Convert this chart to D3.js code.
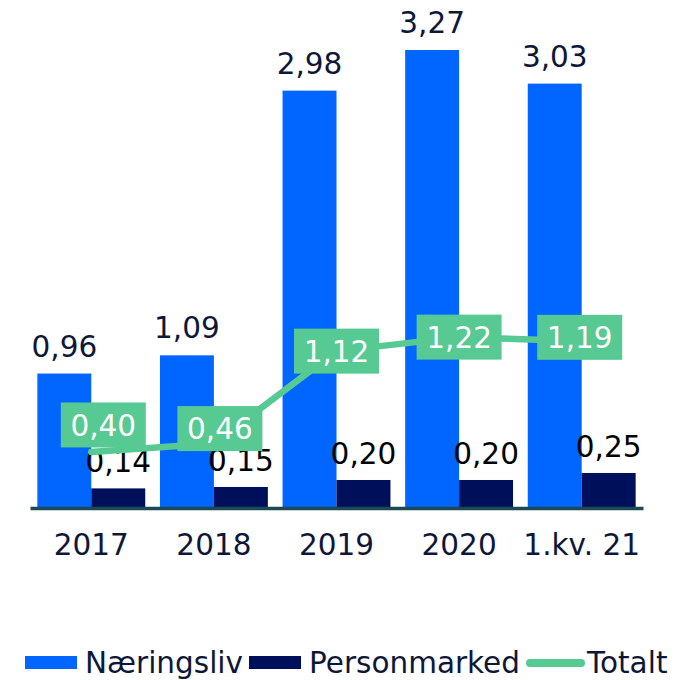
<!DOCTYPE html>
<html>
<head>
<meta charset="utf-8">
<script src="https://cdn.jsdelivr.net/npm/d3@7"></script>
<style>
  body { margin: 0; background: #fff; }
  svg { display: block; font-family: "DejaVu Sans", Verdana, sans-serif; }
</style>
</head>
<body>
<svg id="chart" width="694" height="680"></svg>
<script>
// Periods on the x axis
const categories = ["2017", "2018", "2019", "2020", "1.kv. 21"];
// Bar series
const naeringsliv = [0.96, 1.09, 2.98, 3.27, 3.03];
const personmarked = [0.14, 0.15, 0.20, 0.20, 0.25];
// Line series
const totalt = [0.40, 0.46, 1.12, 1.22, 1.19];
// Legend entries
const legendLabels = ["Næringsliv", "Personmarked", "Totalt"];

const colors = {
  naeringsliv: "#0066ff",
  personmarked: "#000f5a",
  totalt: "#57c993",
  axis: "#1b4a55",
  text: "#0e1738"
};

const fontSize = 29.5;
const fmt = v => d3.format(".2f")(v).replace(".", ",");

const svg = d3.select("#chart");
const baseY = 508;

const x = d3.scaleBand()
  .domain(categories)
  .range([30, 643])
  .paddingInner(0.12)
  .paddingOuter(0.06);

const sub = d3.scaleBand()
  .domain(["naeringsliv", "personmarked"])
  .range([0, x.bandwidth()]);

const y = d3.scaleLinear()
  .domain([0, 3.5])
  .range([baseY, baseY - 3.5 * 140.06]);

// Bars
const groups = svg.append("g").selectAll("g")
  .data(categories)
  .join("g")
  .attr("transform", d => `translate(${x(d)},0)`);

groups.append("rect")
  .attr("x", sub("naeringsliv"))
  .attr("width", sub.bandwidth())
  .attr("y", (d, i) => y(naeringsliv[i]))
  .attr("height", (d, i) => y(0) - y(naeringsliv[i]))
  .attr("fill", colors.naeringsliv);

groups.append("rect")
  .attr("x", sub("personmarked"))
  .attr("width", sub.bandwidth())
  .attr("y", (d, i) => y(personmarked[i]))
  .attr("height", (d, i) => y(0) - y(personmarked[i]))
  .attr("fill", colors.personmarked);

// Bar value labels
groups.append("text")
  .attr("x", sub("naeringsliv") + sub.bandwidth() / 2)
  .attr("y", (d, i) => y(naeringsliv[i]) - 17)
  .attr("text-anchor", "middle")
  .attr("font-size", fontSize)
  .attr("fill", colors.text)
  .text((d, i) => fmt(naeringsliv[i]));

groups.append("text")
  .attr("x", sub("personmarked") + sub.bandwidth() / 2)
  .attr("y", (d, i) => y(personmarked[i]) - 16)
  .attr("text-anchor", "middle")
  .attr("font-size", fontSize)
  .attr("fill", "#000")
  .text((d, i) => fmt(personmarked[i]));

// X axis
const xAxis = svg.append("g")
  .attr("transform", `translate(0,${baseY})`)
  .call(d3.axisBottom(x).tickSize(0).tickSizeOuter(0).tickPadding(26));
xAxis.select(".domain")
  .attr("stroke", colors.axis)
  .attr("stroke-width", 3.5);
xAxis.selectAll("text")
  .attr("font-family", "DejaVu Sans, Verdana, sans-serif")
  .attr("font-size", fontSize)
  .attr("fill", colors.text);

// Totalt line
const cx = d => x(d) + x.bandwidth() / 2;
const line = d3.line()
  .x((d, i) => cx(categories[i]))
  .y(d => y(d));

svg.append("path")
  .datum(totalt)
  .attr("d", line)
  .attr("fill", "none")
  .attr("stroke", colors.totalt)
  .attr("stroke-width", 6.5)
  .attr("stroke-linejoin", "round")
  .attr("stroke-linecap", "round");

// Totalt value boxes (first two nudged to clear the bars)
const labelShift = [[12, -27], [6, -15], [0, 0], [0, 0], [-2, -4]];
const boxW = 85, boxH = 45;
const tl = svg.append("g").selectAll("g")
  .data(totalt)
  .join("g")
  .attr("transform", (d, i) =>
    `translate(${cx(categories[i]) + labelShift[i][0]},${y(d) + labelShift[i][1]})`);

tl.append("rect")
  .attr("x", -boxW / 2)
  .attr("y", -boxH / 2)
  .attr("width", boxW)
  .attr("height", boxH)
  .attr("fill", colors.totalt);

tl.append("text")
  .attr("text-anchor", "middle")
  .attr("dy", "0.36em")
  .attr("font-size", fontSize)
  .attr("fill", "#fff")
  .text(d => fmt(d));

// Legend
const legend = svg.append("g");
const legendY = 663;
let lx = 25;
legendLabels.forEach((label, i) => {
  if (i < 2) {
    legend.append("rect")
      .attr("x", lx)
      .attr("y", legendY - 7)
      .attr("width", 52)
      .attr("height", 13)
      .attr("fill", i === 0 ? colors.naeringsliv : colors.personmarked);
  } else {
    legend.append("line")
      .attr("x1", lx + 4)
      .attr("x2", lx + 55)
      .attr("y1", legendY)
      .attr("y2", legendY)
      .attr("stroke", colors.totalt)
      .attr("stroke-width", 8)
      .attr("stroke-linecap", "round");
  }
  const t = legend.append("text")
    .attr("x", lx + (i < 2 ? 60 : 61))
    .attr("y", legendY + 10)
    .attr("font-size", fontSize)
    .attr("fill", colors.text)
    .text(label);
  lx = lx + (i < 2 ? 60 : 61) + t.node().getComputedTextLength() + 6;
});
</script>
</body>
</html>
